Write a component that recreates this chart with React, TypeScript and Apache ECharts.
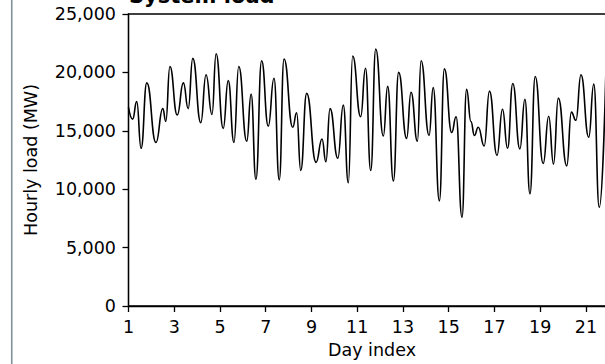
import React, { useEffect, useRef } from "react";
import * as echarts from "echarts";

// Day index of each local peak / trough
const dayIndex = [
  1.0, 1.18, 1.36, 1.55, 1.8, 2.2, 2.5, 2.63, 2.81, 3.13,
  3.4, 3.61, 3.81, 4.16, 4.39, 4.65, 4.83, 5.14, 5.36, 5.61,
  5.82, 6.17, 6.36, 6.57, 6.82, 7.11, 7.36, 7.59, 7.8, 8.18,
  8.35, 8.53, 8.79, 9.2, 9.46, 9.63, 9.81, 10.15, 10.39, 10.61,
  10.8, 11.15, 11.36, 11.59, 11.81, 12.14, 12.33, 12.58, 12.81, 13.16,
  13.35, 13.63, 13.79, 14.14, 14.32, 14.59, 14.81, 15.13, 15.32, 15.58,
  15.78, 15.97, 16.12, 16.29, 16.55, 16.78, 17.11, 17.35, 17.57, 17.8,
  18.11, 18.33, 18.55, 18.78, 19.13, 19.37, 19.58, 19.79, 20.16, 20.36,
  20.56, 20.78, 21.12, 21.34, 21.58, 21.87,
];

// Hourly load (MW) at those points
const hourlyLoad = [
  17000, 16000, 17500, 13500, 19100, 14000, 16900, 15800, 20500, 16350,
  19100, 16900, 21200, 15700, 19800, 16400, 21600, 15200, 19300, 14000,
  20500, 14100, 18150, 10850, 21000, 15400, 19500, 10800, 21150, 15300,
  16550, 11600, 18200, 12300, 14300, 12350, 16900, 12650, 17200, 10550,
  21400, 16200, 20350, 11600, 22000, 14550, 18800, 10700, 20000, 14350,
  18300, 14100, 21000, 14600, 18700, 9000, 20300, 14850, 16200, 7600,
  18550, 15800, 14600, 15300, 13700, 18400, 12900, 16850, 13500, 19050,
  13450, 17700, 9600, 19650, 12200, 16250, 12150, 17800, 12000, 16600,
  15900, 19800, 14450, 19000, 8450, 20100,
];

const DAY_START = 1;
const DAY_END = 22.29;
const DAY_STEP = 2;
const LOAD_MAX = 25000;
const LOAD_STEP = 5000;

const TITLE = "System load";
const X_NAME = "Day index";
const Y_NAME = "Hourly load (MW)";

const FONT = "DejaVu Sans";
const FS = 17.5;

export default function App() {
  const ref = useRef<HTMLDivElement>(null);

  useEffect(() => {
    document.body.style.margin = "0";
    const chart = echarts.init(ref.current!, null, { renderer: "svg" });
    const data = dayIndex.map((d, i) => [d - DAY_START, hourlyLoad[i]]);
    const gridLeft = 128.5;
    const gridTop = 14;
    const gridW = 487;
    const gridH = 292;
    chart.setOption({
      animation: false,
      backgroundColor: "#ffffff",
      grid: {
        left: gridLeft,
        top: gridTop,
        width: gridW,
        height: gridH,
        show: true,
        borderColor: "#000",
        borderWidth: 1.3,
        backgroundColor: "transparent",
      },
      xAxis: {
        type: "value",
        min: 0,
        max: DAY_END - DAY_START,
        interval: DAY_STEP,
        name: X_NAME,
        nameLocation: "middle",
        nameGap: 33,
        nameTextStyle: { fontFamily: FONT, fontSize: FS, color: "#000" },
        axisLine: { show: true, lineStyle: { color: "#000", width: 1.3 } },
        axisTick: { show: true, length: 6, lineStyle: { color: "#000", width: 1.3 } },
        axisLabel: {
          margin: 12,
          fontFamily: FONT,
          fontSize: FS,
          color: "#000",
          showMaxLabel: false,
          formatter: (v: number) => String(Math.round(v + DAY_START)),
        },
        splitLine: { show: false },
      },
      yAxis: {
        type: "value",
        min: 0,
        max: LOAD_MAX,
        interval: LOAD_STEP,
        axisLine: { show: true, lineStyle: { color: "#000", width: 1.3 } },
        axisTick: { show: true, length: 6, lineStyle: { color: "#000", width: 1.3 } },
        axisLabel: {
          margin: 12.5,
          fontFamily: FONT,
          fontSize: FS,
          color: "#000",
          formatter: (v: number) => v.toLocaleString("en-US"),
        },
        splitLine: { show: false },
      },
      graphic: [
        {
          type: "line",
          shape: { x1: 11.75, y1: 0, x2: 11.75, y2: 364 },
          style: { stroke: "#7f919d", lineWidth: 1.6 },
        },
        {
          type: "text",
          x: 129,
          y: -4,
          style: {
            text: TITLE,
            fontFamily: FONT,
            fontSize: 21,
            fontWeight: "bold",
            fill: "#000",
            align: "left",
            verticalAlign: "middle",
          },
        },
        {
          type: "text",
          x: 31,
          y: 160,
          rotation: Math.PI / 2,
          style: {
            text: Y_NAME,
            fontFamily: FONT,
            fontSize: FS,
            fill: "#000",
            align: "center",
            verticalAlign: "middle",
          },
        },
      ],
      series: [
        {
          type: "line",
          data,
          smooth: 0.5,
          smoothMonotone: "x",
          showSymbol: false,
          symbol: "none",
          lineStyle: { color: "#000", width: 1.6 },
        },
      ],
    });
    return () => chart.dispose();
  }, []);

  return (
    <div
      style={{
        position: "fixed",
        left: 0,
        top: 0,
        width: 605,
        height: 364,
        overflow: "hidden",
        background: "#fff",
      }}
    >
      <div ref={ref} style={{ width: 640, height: 364 }} />
    </div>
  );
}
